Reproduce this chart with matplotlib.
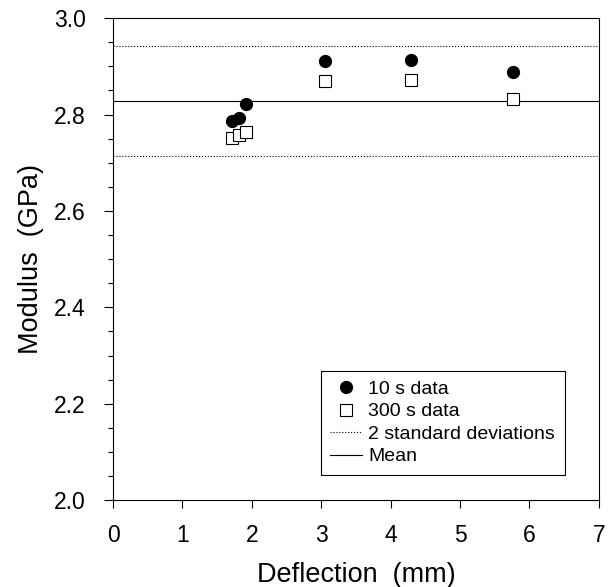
import numpy as np
import matplotlib.pyplot as plt
from matplotlib.ticker import MultipleLocator

plt.rcParams['font.family'] = ['Liberation Sans', 'DejaVu Sans']

# deflection (mm) and modulus (GPa)
deflection = [1.72, 1.82, 1.92, 3.06, 4.30, 5.77]
mod_10s = [2.786, 2.793, 2.822, 2.911, 2.913, 2.888]
mod_300s = [2.751, 2.757, 2.763, 2.869, 2.871, 2.832]
mean_mod = 2.828
two_sd = 0.114

fig = plt.figure(figsize=(6.11, 5.87), dpi=100)
ax = fig.add_axes([0.185, 0.148, 0.795, 0.821])

ax.plot(deflection, mod_10s, 'o', color='black', markersize=8.5, label='10 s data', zorder=4)
ax.plot(deflection, mod_300s, 's', markerfacecolor='white', markeredgecolor='black',
        markeredgewidth=0.8, markersize=8, label='300 s data', zorder=3)
ax.axhline(mean_mod + two_sd, color='black', linestyle=':', linewidth=0.8,
           label='2 standard deviations')
ax.axhline(mean_mod - two_sd, color='black', linestyle=':', linewidth=0.8)
ax.axhline(mean_mod, color='black', linestyle='-', linewidth=0.8, label='Mean')

ax.set_xlim(0, 7)
ax.set_ylim(2.0, 3.0)
ax.xaxis.set_major_locator(MultipleLocator(1))
ax.yaxis.set_major_locator(MultipleLocator(0.2))
ax.yaxis.set_minor_locator(MultipleLocator(0.05))
ax.yaxis.set_major_formatter(plt.FuncFormatter(lambda v, p: f'{v:.1f}'))

ax.tick_params(axis='both', which='major', direction='out', width=0.8,
               labelsize=16.5, top=False, right=False)
ax.tick_params(axis='x', which='major', length=6, pad=11)
ax.tick_params(axis='y', which='major', length=6.5, pad=13)
ax.tick_params(axis='y', which='minor', direction='out', length=3.6, width=0.8)
for s in ax.spines.values():
    s.set_linewidth(0.8)

ax.set_xlabel('Deflection  (mm)', fontsize=19.5, labelpad=11)
ax.set_ylabel('Modulus  (GPa)', fontsize=19.5, labelpad=7)

leg = ax.legend(loc='lower right', bbox_to_anchor=(0.93, 0.052), fontsize=14,
                frameon=True, fancybox=False, edgecolor='black', framealpha=1,
                handlelength=1.6, handletextpad=0.35, borderpad=0.5,
                labelspacing=0.25, numpoints=1, borderaxespad=0)
leg.get_frame().set_linewidth(0.8)

fig.savefig('out.png', dpi=100)
